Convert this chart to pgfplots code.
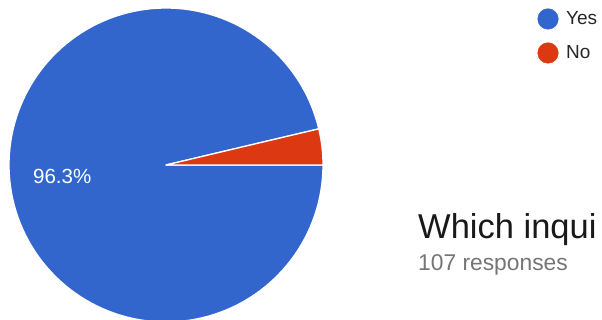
\documentclass[border=0pt]{standalone}
\usepackage{fontspec}
\setmainfont{Liberation Sans}
\usepackage{pgfplots}
\pgfplotsset{compat=1.18}
\definecolor{pieblue}{HTML}{3366CC}
\definecolor{piered}{HTML}{DC3912}
\definecolor{subgray}{HTML}{757575}
\begin{document}
\begin{tikzpicture}
\pgfmathsetmacro{\yes}{96.3}
\pgfmathsetmacro{\no}{3.7}
\pgfmathsetmacro{\angNo}{\no/(\yes+\no)*360}
\begin{axis}[
  at={(0,0)}, anchor=south west,
  width=602pt, height=320pt, scale only axis,
  xmin=0, xmax=602, ymin=0, ymax=320,
  hide axis, clip=true,
]
% pie wedges: centre (166,155), radius 157
\addplot[fill=pieblue, draw=white, line width=1.3pt, line join=round, domain=\angNo:360, samples=150, variable=\t]
  ({166+157*cos(\t)},{155+157*sin(\t)}) -- (axis cs:166,155) -- cycle;
\addplot[fill=piered, draw=white, line width=1.3pt, line join=round, domain=0:\angNo, samples=20, variable=\t]
  ({166+157*cos(\t)},{155+157*sin(\t)}) -- (axis cs:166,155) -- cycle;
% legend markers
\addplot[only marks, mark=*, mark size=10.3pt, pieblue, mark options={draw=pieblue, fill=pieblue}] coordinates {(548,301)};
\addplot[only marks, mark=*, mark size=10.3pt, piered, mark options={draw=piered, fill=piered}] coordinates {(548,267)};
\node[anchor=base west, font=\fontsize{19}{21}\selectfont, text=black!85, inner sep=0pt] at (axis cs:566,295) {Yes};
\node[anchor=base west, font=\fontsize{19}{21}\selectfont, text=black!85, inner sep=0pt] at (axis cs:566,261) {No};
% slice label
\node[anchor=base west, font=\fontsize{20.5}{22}\selectfont, text=white, inner sep=0pt] at (axis cs:33,136) {96.3\%};
% title
\node[anchor=base west, font=\fontsize{34.5}{37}\selectfont, text=black!90, inner sep=0pt] at (axis cs:418,81) {Which inqui};
\node[anchor=base west, font=\fontsize{22.8}{25}\selectfont, text=subgray, inner sep=0pt] at (axis cs:418,49) {107 responses};
\end{axis}
\pgfresetboundingbox
\path[use as bounding box] (0,0) rectangle (602pt,320pt);
\end{tikzpicture}
\end{document}
